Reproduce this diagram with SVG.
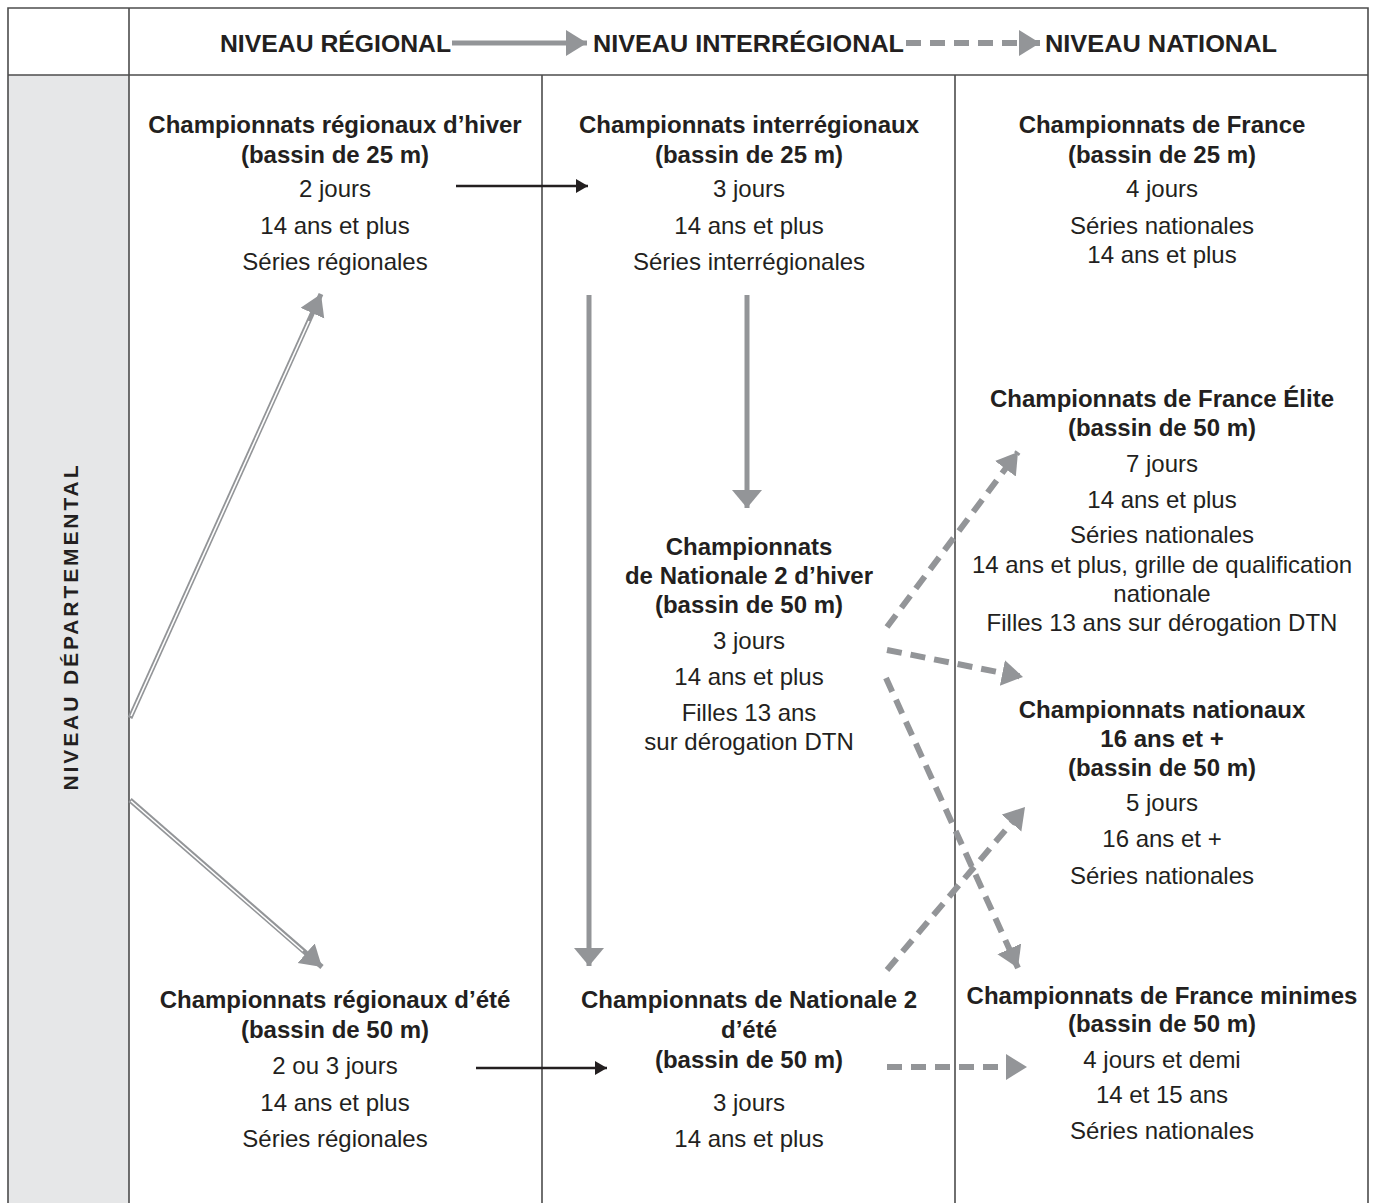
<svg xmlns="http://www.w3.org/2000/svg" width="1375" height="1203" viewBox="0 0 1375 1203">
<style>
text{font-family:"Liberation Sans",Arial,sans-serif;fill:#231f20;font-size:24px;text-anchor:middle}
.b{font-weight:bold}
.h{font-weight:bold;font-size:24px;text-anchor:start}
.frame{stroke:#4d4d4d;stroke-width:1.6;fill:none}
.g{stroke:#939598;stroke-width:5;fill:none}
.gd{stroke:#939598;stroke-width:6;fill:none;stroke-dasharray:15 9}
.k{stroke:#231f20;stroke-width:2.5;fill:none}
.dbl{stroke:#939598;stroke-width:5;fill:none}
.dbw{stroke:#ffffff;stroke-width:1.6;fill:none}
</style>
<defs>
<marker id="mg" markerUnits="userSpaceOnUse" markerWidth="40" markerHeight="40" refX="21" refY="13" orient="auto"><path d="M0,0 L21,13 L0,26 Z" fill="#939598"/></marker>
<marker id="mv" markerUnits="userSpaceOnUse" markerWidth="40" markerHeight="40" refX="18" refY="15" orient="auto"><path d="M0,0 L18,15 L0,30 Z" fill="#939598"/></marker>
<marker id="mk" markerUnits="userSpaceOnUse" markerWidth="20" markerHeight="20" refX="12" refY="7" orient="auto"><path d="M0,0 L12,7 L0,14 Z" fill="#231f20"/></marker>
</defs>
<rect x="0" y="0" width="1375" height="1203" fill="#ffffff"/>
<g id="frame">
<rect x="8" y="75" width="121" height="1130" fill="#e6e7e8"/>
<path class="frame" d="M8,1205 V8 H1368 V1205 M8,75 H1368 M129,8 V1205 M542,75 V1205 M955,75 V1205"/>
</g>
<g id="header">
<text class="h" x="220" y="52" textLength="231" lengthAdjust="spacingAndGlyphs">NIVEAU RÉGIONAL</text>
<text class="h" x="593" y="52" textLength="311" lengthAdjust="spacingAndGlyphs">NIVEAU INTERRÉGIONAL</text>
<text class="h" x="1045" y="52" textLength="232" lengthAdjust="spacingAndGlyphs">NIVEAU NATIONAL</text>
</g>
<g id="sidebar">
<text class="b" transform="translate(78,628) rotate(-90)" style="font-size:21px" textLength="325" lengthAdjust="spacing">NIVEAU DÉPARTEMENTAL</text>
</g>
<g id="n-reg-hiver">
<text class="b" x="335" y="133">Championnats régionaux d’hiver</text>
<text class="b" x="335" y="163">(bassin de 25 m)</text>
<text x="335" y="197">2 jours</text>
<text x="335" y="234">14 ans et plus</text>
<text x="335" y="270">Séries régionales</text>
</g>
<g id="n-reg-ete">
<text class="b" x="335" y="1008">Championnats régionaux d’été</text>
<text class="b" x="335" y="1038">(bassin de 50 m)</text>
<text x="335" y="1074">2 ou 3 jours</text>
<text x="335" y="1111">14 ans et plus</text>
<text x="335" y="1147">Séries régionales</text>
</g>
<g id="n-interreg">
<text class="b" x="749" y="133">Championnats interrégionaux</text>
<text class="b" x="749" y="163">(bassin de 25 m)</text>
<text x="749" y="197">3 jours</text>
<text x="749" y="234">14 ans et plus</text>
<text x="749" y="270">Séries interrégionales</text>
</g>
<g id="n-n2-hiver">
<text class="b" x="749" y="555">Championnats</text>
<text class="b" x="749" y="584">de Nationale 2 d’hiver</text>
<text class="b" x="749" y="613">(bassin de 50 m)</text>
<text x="749" y="649">3 jours</text>
<text x="749" y="685">14 ans et plus</text>
<text x="749" y="721">Filles 13 ans</text>
<text x="749" y="750">sur dérogation DTN</text>
</g>
<g id="n-n2-ete">
<text class="b" x="749" y="1008">Championnats de Nationale 2</text>
<text class="b" x="749" y="1038">d’été</text>
<text class="b" x="749" y="1068">(bassin de 50 m)</text>
<text x="749" y="1111">3 jours</text>
<text x="749" y="1147">14 ans et plus</text>
</g>
<g id="n-france-25">
<text class="b" x="1162" y="133">Championnats de France</text>
<text class="b" x="1162" y="163">(bassin de 25 m)</text>
<text x="1162" y="197">4 jours</text>
<text x="1162" y="234">Séries nationales</text>
<text x="1162" y="263">14 ans et plus</text>
</g>
<g id="n-france-elite">
<text class="b" x="1162" y="407">Championnats de France Élite</text>
<text class="b" x="1162" y="436">(bassin de 50 m)</text>
<text x="1162" y="472">7 jours</text>
<text x="1162" y="508">14 ans et plus</text>
<text x="1162" y="543">Séries nationales</text>
<text x="1162" y="573">14 ans et plus, grille de qualification</text>
<text x="1162" y="602">nationale</text>
<text x="1162" y="631">Filles 13 ans sur dérogation DTN</text>
</g>
<g id="n-nationaux-16">
<text class="b" x="1162" y="718">Championnats nationaux</text>
<text class="b" x="1162" y="747">16 ans et +</text>
<text class="b" x="1162" y="776">(bassin de 50 m)</text>
<text x="1162" y="811">5 jours</text>
<text x="1162" y="847">16 ans et +</text>
<text x="1162" y="884">Séries nationales</text>
</g>
<g id="n-france-minimes">
<text class="b" x="1162" y="1004">Championnats de France minimes</text>
<text class="b" x="1162" y="1032">(bassin de 50 m)</text>
<text x="1162" y="1068">4 jours et demi</text>
<text x="1162" y="1103">14 et 15 ans</text>
<text x="1162" y="1139">Séries nationales</text>
</g>
<g id="connectors">
<line class="g" x1="452" y1="43" x2="587" y2="43" marker-end="url(#mg)"/>
<line class="gd" x1="906" y1="43" x2="1040" y2="43" marker-end="url(#mg)"/>
<line class="k" x1="456" y1="186" x2="588" y2="186" marker-end="url(#mk)"/>
<line class="k" x1="476" y1="1068" x2="607" y2="1068" marker-end="url(#mk)"/>
<line class="g" x1="589" y1="295" x2="589" y2="966" marker-end="url(#mv)"/>
<line class="g" x1="747" y1="295" x2="747" y2="508" marker-end="url(#mv)"/>
<line class="dbl" x1="130" y1="718" x2="321" y2="294" marker-end="url(#mg)"/>
<line class="dbw" x1="131" y1="716" x2="309" y2="321"/>
<line class="dbl" x1="130" y1="800" x2="322" y2="967" marker-end="url(#mg)"/>
<line class="dbw" x1="131" y1="801" x2="303" y2="951"/>
<line class="gd" x1="887" y1="627" x2="1018" y2="452" marker-end="url(#mg)"/>
<line class="gd" x1="887" y1="650" x2="1023" y2="677" marker-end="url(#mg)"/>
<line class="gd" x1="886" y1="678" x2="1018" y2="968" marker-end="url(#mg)"/>
<line class="gd" x1="887" y1="970" x2="1025" y2="807" marker-end="url(#mg)"/>
<line class="gd" x1="887" y1="1067" x2="1027" y2="1067" marker-end="url(#mg)"/>
</g>
</svg>
